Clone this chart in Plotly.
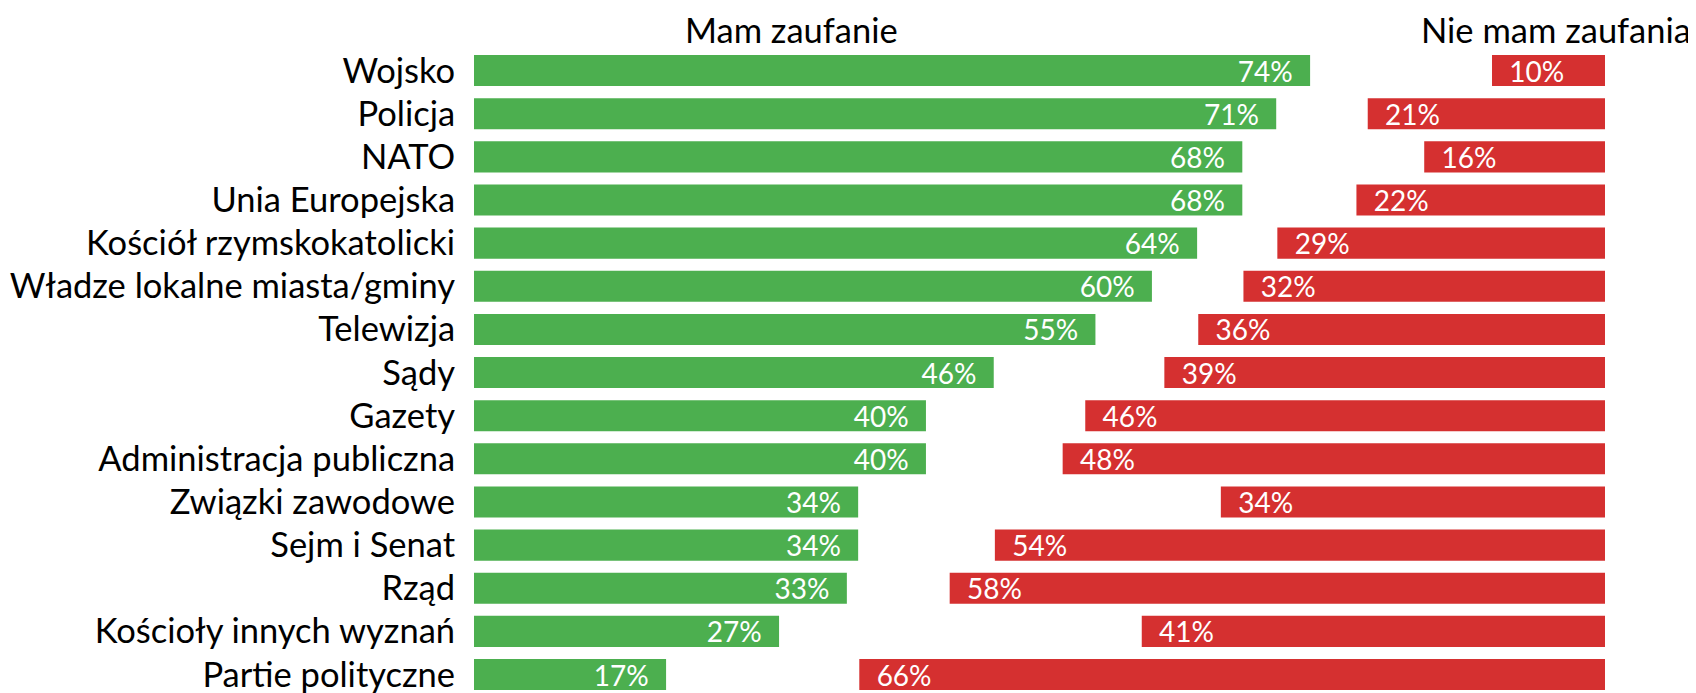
import plotly.graph_objects as go

categories = [
    "Wojsko", "Policja", "NATO", "Unia Europejska", "Kościół rzymskokatolicki",
    "Władze lokalne miasta/gminy", "Telewizja", "Sądy", "Gazety",
    "Administracja publiczna", "Związki zawodowe", "Sejm i Senat", "Rząd",
    "Kościoły innych wyznań", "Partie polityczne",
]
trust = [74, 71, 68, 68, 64, 60, 55, 46, 40, 40, 34, 34, 33, 27, 17]
distrust = [10, 21, 16, 22, 29, 32, 36, 39, 46, 48, 34, 54, 58, 41, 66]
title_trust = "Mam zaufanie"
title_distrust = "Nie mam zaufania"

GREEN = "#4CAF4F"
RED = "#D53030"
FONT = "Lato"
NB = "\u00a0"

fig = go.Figure()
fig.add_trace(go.Bar(
    y=categories, x=trust, orientation="h", xaxis="x", yaxis="y",
    marker=dict(color=GREEN, line=dict(width=0)),
    texttemplate="%{x}%" + NB * 2, textposition="inside", insidetextanchor="end",
    constraintext="none",
    textfont=dict(family=FONT, size=28, color="white"),
    hoverinfo="skip", showlegend=False,
))
fig.add_trace(go.Bar(
    y=categories, x=distrust, orientation="h", xaxis="x2", yaxis="y",
    marker=dict(color=RED, line=dict(width=0)),
    texttemplate=NB * 2 + "%{x}%", textposition="inside", insidetextanchor="end",
    constraintext="none",
    textfont=dict(family=FONT, size=28, color="white"),
    hoverinfo="skip", showlegend=False,
))

# the page body adds an 8px offset; the figure is sized to fill the rest
OFF = 8
W, H = 1696 - OFF, 693 - OFF
ml, mr = 474 - OFF, 91
mt = 49 - OFF
mb = 0
pw = W - ml - mr
ph = H - mt - mb
pitch = 43.14
units = ph / pitch
title_y = 1 + mt / ph  # top edge of the figure

fig.update_layout(
    width=W, height=H,
    margin=dict(l=ml, r=mr, t=mt, b=mb, pad=0),
    paper_bgcolor="white", plot_bgcolor="white",
    barmode="overlay", bargap=0.28,
    font=dict(family=FONT, color="black"),
    xaxis=dict(range=[0, 100.1], visible=False, fixedrange=True),
    xaxis2=dict(range=[100.1, 0], overlaying="x", visible=False, fixedrange=True),
    yaxis=dict(
        type="category", range=[-0.5 + units, -0.5], automargin=False,
        showgrid=False, zeroline=False, showline=False,
        ticks="outside", ticklen=11, tickcolor="rgba(0,0,0,0)",
        tickfont=dict(family=FONT, size=34.5, color="black"),
        fixedrange=True,
    ),
    annotations=[
        dict(text=title_trust, xref="paper", yref="paper",
             x=(791 - 474) / pw, y=title_y,
             xanchor="center", yanchor="top", showarrow=False, borderpad=0,
             font=dict(family=FONT, size=34.5, color="black")),
        dict(text=title_distrust, xref="paper", yref="paper",
             x=(1556 - 474) / pw, y=title_y,
             xanchor="center", yanchor="top", showarrow=False, borderpad=0,
             font=dict(family=FONT, size=34.5, color="black")),
    ],
)

fig.write_html("out.html")
